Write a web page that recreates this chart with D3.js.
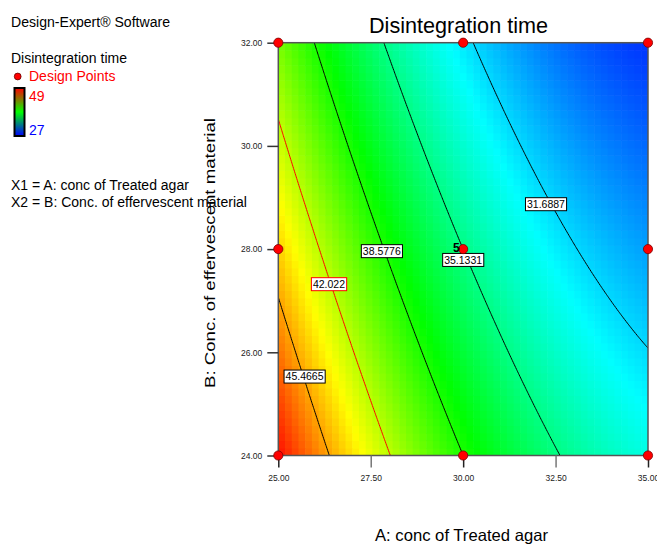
<!DOCTYPE html>
<html>
<head>
<meta charset="utf-8">
<script src="https://cdn.jsdelivr.net/npm/d3@7"></script>
<style>
  html, body { margin: 0; padding: 0; background: #fff; }
  svg { display: block; font-family: "Liberation Sans", Arial, sans-serif; }
</style>
</head>
<body>
<svg id="chart" width="657" height="544"></svg>
<script>
// ---------------- data ----------------
const chartTitle = "Disintegration time";
const xTitle = "A: conc of Treated agar";
const yTitle = "B: Conc. of effervescent material";
const xDomain = [25, 35];
const yDomain = [24, 32];
const xTicks = [25, 27.5, 30, 32.5, 35];
const yTicks = [24, 26, 28, 30, 32];
// design points (A, B) and replicate counts
const designA = [25, 25, 25, 30, 30, 30, 35, 35, 35];
const designB = [24, 28, 32, 24, 28, 32, 24, 28, 32];
const replicates = [1, 1, 1, 1, 5, 1, 1, 1, 1];
// quadratic model in coded units: Intercept, A, B, AB, A^2, B^2
const coefNames = ["Intercept", "A", "B", "AB", "A2", "B2"];
const coefValues = [35.13, -7.03, -3.28, 0.78, 2.35, 0.17];
// contour levels and label anchors (A, B)
const contourLevels = [31.6887, 35.1331, 38.5776, 42.022, 45.4665];
const labelA = [32.24, 30.0, 27.80, 26.37, 25.71];
const labelB = [28.87, 27.79, 27.96, 27.32, 25.53];
const highlightLevel = 42.022;
// colour legend range
const colorMin = 27, colorMax = 49;
const legendLines = ["Design-Expert\u00AE Software", "Disintegration time", "Design Points",
  "X1 = A: conc of Treated agar", "X2 = B: Conc. of effervescent material"];

// ---------------- drawing ----------------
const svg = d3.select("#chart");
const x = d3.scaleLinear().domain(xDomain).range([278.3, 648]);
const y = d3.scaleLinear().domain(yDomain).range([455.5, 42.7]);

function model(A, B) {
  const a = (A - 30) / 5, b = (B - 28) / 4;
  const c = coefValues;
  return c[0] + c[1]*a + c[2]*b + c[3]*a*b + c[4]*a*a + c[5]*b*b;
}

const color = d3.scaleLinear()
  .domain(d3.range(5).map(i => colorMin + i*(colorMax - colorMin)/4))
  .range(["#0000ff", "#00ffff", "#00ff00", "#ffff00", "#ff0000"])
  .clamp(true);

// clip
svg.append("defs").append("clipPath").attr("id", "plotclip")
  .append("rect").attr("x", x(25)).attr("y", y(32))
  .attr("width", x(35) - x(25)).attr("height", y(24) - y(32));

// heat map cells
const nc = 55, nr = 55;
const cells = [];
for (let j = 0; j < nr; j++) for (let i = 0; i < nc; i++) {
  const A0 = xDomain[0] + i*(xDomain[1]-xDomain[0])/nc, A1 = xDomain[0] + (i+1)*(xDomain[1]-xDomain[0])/nc;
  const B0 = yDomain[0] + j*(yDomain[1]-yDomain[0])/nr, B1 = yDomain[0] + (j+1)*(yDomain[1]-yDomain[0])/nr;
  cells.push({A0, A1, B0, B1, v: model((A0+A1)/2, (B0+B1)/2)});
}
svg.append("g").attr("clip-path", "url(#plotclip)")
  .selectAll("rect").data(cells).join("rect")
  .attr("x", d => x(d.A0)).attr("y", d => y(d.B1))
  .attr("width", d => x(d.A1) - x(d.A0) + 0.6)
  .attr("height", d => y(d.B0) - y(d.B1) + 0.6)
  .attr("fill", d => color(d.v));

// contour lines
const n = 241, m = 241;
const stepA = (xDomain[1]-xDomain[0])/(n-1), stepB = (yDomain[1]-yDomain[0])/(m-1);
const values = new Array(n*m);
for (let j = 0; j < m; j++) for (let i = 0; i < n; i++)
  values[j*n + i] = model(xDomain[0] + i*stepA, yDomain[0] + j*stepB);
const contours = d3.contours().size([n, m]).thresholds(contourLevels)(values);
const proj = d3.geoTransform({
  point: function(px, py) {
    this.stream.point(x(xDomain[0] + (px - 0.5)*stepA), y(yDomain[0] + (py - 0.5)*stepB));
  }
});
const path = d3.geoPath(proj);
svg.append("g").attr("clip-path", "url(#plotclip)")
  .selectAll("path").data(contours).join("path")
  .attr("d", path)
  .attr("fill", "none")
  .attr("stroke", d => Math.abs(d.value - highlightLevel) < 1e-6 ? "#ff0000" : "#000")
  .attr("stroke-width", 1);

// plot frame
svg.append("rect").attr("x", x(25)).attr("y", y(32))
  .attr("width", x(35) - x(25)).attr("height", y(24) - y(32))
  .attr("fill", "none").attr("stroke", "#555").attr("stroke-width", 1.5);

// axes
const fmt = d3.format(".2f");
const gx = svg.append("g").attr("transform", `translate(0,${y(24)})`)
  .call(d3.axisBottom(x).tickValues(xTicks).tickFormat(fmt).tickSize(12).tickPadding(7));
const gy = svg.append("g").attr("transform", `translate(${x(25)},0)`)
  .call(d3.axisLeft(y).tickValues(yTicks).tickFormat(fmt).tickSize(11).tickPadding(5));
[gx, gy].forEach(g => {
  g.select(".domain").remove();
  g.selectAll("line").attr("stroke", "#333").attr("stroke-width", 1.5);
  g.selectAll("text").attr("fill", "#222").style("font-size", "8.5px")
    .style("font-family", "'Liberation Sans', Arial, sans-serif");
});
gx.selectAll(".tick line").attr("stroke", d => designA.includes(d) ? "#222" : "#777");

// contour labels
const labels = contourLevels.map((lv, i) => ({lv, A: labelA[i], B: labelB[i]}));
const lg = svg.append("g").selectAll("g").data(labels).join("g")
  .attr("transform", d => `translate(${x(d.A)},${y(d.B)})`);
lg.append("text").text(d => d.lv)
  .attr("text-anchor", "middle").attr("dy", "0.36em")
  .style("font-size", "10.5px").attr("fill", "#000");
lg.each(function(d) {
  const g = d3.select(this);
  const bb = g.select("text").node().getBBox();
  g.insert("rect", "text")
    .attr("x", bb.x - 1.5).attr("y", -6.5)
    .attr("width", bb.width + 3).attr("height", 13)
    .attr("fill", "#fff")
    .attr("stroke", Math.abs(d.lv - highlightLevel) < 1e-6 ? "#ff0000" : "#000")
    .attr("stroke-width", 1);
});

// design points
const pts = designA.map((a, i) => ({A: a, B: designB[i], r: replicates[i]}));
svg.append("g").selectAll("circle").data(pts).join("circle")
  .attr("cx", d => x(d.A)).attr("cy", d => y(d.B)).attr("r", 4.6)
  .attr("fill", "#ff0000").attr("stroke", "#7a0000").attr("stroke-width", 0.8);
svg.append("g").selectAll("text").data(pts.filter(d => d.r > 1)).join("text")
  .attr("x", d => x(d.A) - 3.5).attr("y", d => y(d.B) + 2.5)
  .attr("text-anchor", "end").style("font-size", "12px").style("font-weight", "bold")
  .text(d => d.r);

// titles
svg.append("text").attr("x", 458.5).attr("y", 33).attr("text-anchor", "middle")
  .style("font-size", "22px").attr("textLength", 179).attr("lengthAdjust", "spacingAndGlyphs")
  .text(chartTitle);
svg.append("text").attr("x", 461.5).attr("y", 540.7).attr("text-anchor", "middle")
  .style("font-size", "16.5px").attr("textLength", 173).attr("lengthAdjust", "spacingAndGlyphs")
  .text(xTitle);
svg.append("text").attr("transform", "translate(214.5,253) rotate(-90)").attr("text-anchor", "middle")
  .style("font-size", "15px").attr("textLength", 270).attr("lengthAdjust", "spacingAndGlyphs")
  .text(yTitle);

// legend
const leg = svg.append("g").style("font-size", "14px");
leg.append("text").attr("x", 11).attr("y", 26.5).attr("textLength", 159).attr("lengthAdjust", "spacingAndGlyphs").text(legendLines[0]);
leg.append("text").attr("x", 11).attr("y", 62.5).text(legendLines[1]);
leg.append("circle").attr("cx", 17.7).attr("cy", 76.5).attr("r", 3.4)
  .attr("fill", "#ff0000").attr("stroke", "#600").attr("stroke-width", 0.8);
leg.append("text").attr("x", 29).attr("y", 80.5).attr("fill", "#ff0000").text(legendLines[2]);
const grad = svg.select("defs").append("linearGradient").attr("id", "cbar")
  .attr("x1", 0).attr("y1", 0).attr("x2", 0).attr("y2", 1);
grad.append("stop").attr("offset", "0%").attr("stop-color", "#ff0000");
grad.append("stop").attr("offset", "50%").attr("stop-color", "#00ff00");
grad.append("stop").attr("offset", "100%").attr("stop-color", "#0000ff");
leg.append("rect").attr("x", 14.5).attr("y", 88).attr("width", 10).attr("height", 48)
  .attr("fill", "url(#cbar)").attr("stroke", "#000").attr("stroke-width", 2);
leg.append("text").attr("x", 29).attr("y", 100.5).attr("fill", "#ff0000").text(colorMax);
leg.append("text").attr("x", 29).attr("y", 135).attr("fill", "#0000ff").text(colorMin);
leg.append("text").attr("x", 11).attr("y", 189.5).text(legendLines[3]);
leg.append("text").attr("x", 11).attr("y", 206.5).text(legendLines[4]);
</script>
</body>
</html>
